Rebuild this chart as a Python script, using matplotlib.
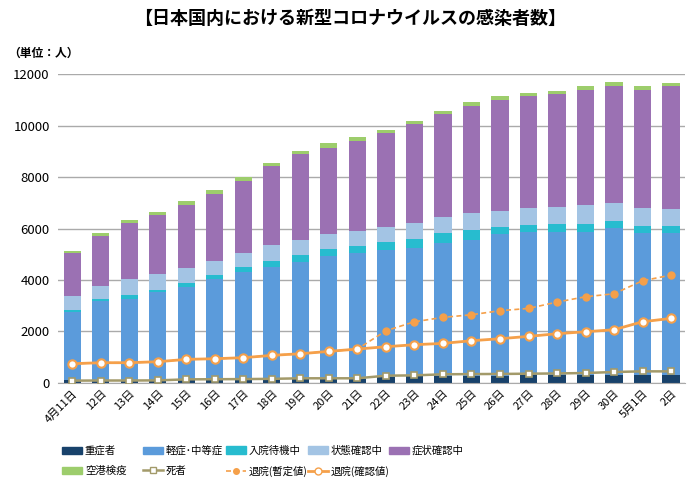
import matplotlib
matplotlib.use("Agg")
import matplotlib.pyplot as plt
import numpy as np
from matplotlib.lines import Line2D
from matplotlib.patches import Patch

plt.rcParams['font.family'] = ['Noto Sans CJK JP', 'DejaVu Sans']

dates = ["4月11日", "12日", "13日", "14日", "15日", "16日", "17日", "18日", "19日", "20日",
         "21日", "22日", "23日", "24日", "25日", "26日", "27日", "28日", "29日", "30日",
         "5月1日", "2日"]

# cumulative tops
top_green  = [5136, 5837, 6329, 6641, 7082, 7497, 8002, 8560, 9027, 9338, 9572,
              9857, 10207, 10584, 10934, 11167, 11297, 11362, 11543, 11712, 11556, 11673]
top_purple = [5058, 5707, 6226, 6537, 6926, 7341, 7847, 8431, 8897, 9157, 9416,
              9728, 10078, 10467, 10778, 11012, 11167, 11245, 11401, 11556, 11401, 11543]
top_lblue  = [3372, 3761, 4047, 4228, 4462, 4747, 5058, 5370, 5551, 5785, 5915,
              6070, 6226, 6459, 6589, 6693, 6809, 6848, 6900, 7004, 6809, 6770]
top_cyan   = [2827, 3243, 3411, 3606, 3891, 4189, 4501, 4734, 4967, 5201, 5318,
              5486, 5590, 5837, 5940, 6070, 6135, 6187, 6187, 6290, 6109, 6109]
top_blue   = [2763, 3178, 3243, 3515, 3710, 4021, 4293, 4514, 4695, 4942, 5032,
              5162, 5240, 5447, 5551, 5772, 5850, 5875, 5875, 6005, 5837, 5811]
severe     = [110, 115, 115, 120, 130, 130, 140, 140, 145, 150, 150,
              240, 250, 260, 270, 270, 280, 280, 290, 300, 300, 310]

deaths      = [80, 85, 85, 90, 130, 135, 140, 150, 171, 171, 171,
               273, 285, 327, 335, 340, 350, 360, 377, 416, 442, 440]
disch_prov  = [739, 778, 778, 817, 908, 934, 973, 1064, 1128, 1219, 1310,
               2023, 2373, 2542, 2646, 2802, 2892, 3139, 3346, 3463, 3969, 4189]
disch_conf  = [739, 778, 778, 817, 908, 934, 973, 1064, 1128, 1219, 1310,
               1401, 1479, 1530, 1634, 1712, 1803, 1907, 1984, 2062, 2373, 2503]

navy_v   = np.array(severe)
blue_v   = np.array(top_blue) - navy_v
cyan_v   = np.array(top_cyan) - np.array(top_blue)
lblue_v  = np.array(top_lblue) - np.array(top_cyan)
purple_v = np.array(top_purple) - np.array(top_lblue)
green_v  = np.array(top_green) - np.array(top_purple)

c_navy = "#18426b"
c_blue = "#5b9bdb"
c_cyan = "#27bccf"
c_lblue = "#a3c4e4"
c_purple = "#9b71b3"
c_green = "#9dcd6c"
c_olive = "#a39a6a"
c_orange = "#f5a04a"

fig = plt.figure(figsize=(7, 4.9), dpi=100)
ax = fig.add_axes([0.083, 0.219, 0.896, 0.629])

x = np.arange(len(dates))
w = 0.6
bottom = np.zeros(len(dates))
for vals, col in [(navy_v, c_navy), (blue_v, c_blue), (cyan_v, c_cyan),
                  (lblue_v, c_lblue), (purple_v, c_purple), (green_v, c_green)]:
    ax.bar(x, vals, w, bottom=bottom, color=col, zorder=2, linewidth=0)
    bottom = bottom + vals

ax.plot(x, deaths, color=c_olive, lw=1.8, marker='s', ms=5, mfc='white',
        mec=c_olive, mew=1.2, zorder=4)
ax.plot(x, disch_prov, color=c_orange, lw=1.2, ls=(0, (3, 2)), marker='o', ms=5,
        mfc=c_orange, mec=c_orange, zorder=4)
ax.plot(x, disch_conf, color=c_orange, lw=2, marker='o', ms=6, mfc='white',
        mec=c_orange, mew=1.5, zorder=5)

ax.set_xlim(-0.5, len(dates) - 0.5)
ax.set_ylim(0, 12000)
ax.set_yticks(np.arange(0, 12001, 2000))
ax.yaxis.grid(True, color="#aaaaaa", lw=1, zorder=0)
ax.set_axisbelow(True)
for s in ['top', 'right', 'left']:
    ax.spines[s].set_visible(False)
ax.spines['bottom'].set_color("#aaaaaa")
ax.tick_params(axis='y', length=0, labelsize=9.5, pad=6)
ax.tick_params(axis='x', length=0, labelsize=8, pad=4)
ax.set_xticks(x)
ax.set_xticklabels(dates, rotation=45, ha='right', rotation_mode='anchor')

fig.text(0.5, 0.962, "【日本国内における新型コロナウイルスの感染者数】", ha='center',
         va='center', fontsize=13, fontweight='bold')
fig.text(0.012, 0.892, "（単位：人）", ha='left', va='center', fontsize=8.5,
         fontweight='bold')

h = [
    Patch(color=c_navy, label="重症者"),
    Patch(color=c_blue, label="軽症･中等症"),
    Patch(color=c_cyan, label="入院待機中"),
    Patch(color=c_lblue, label="状態確認中"),
    Patch(color=c_purple, label="症状確認中"),
    Patch(color=c_green, label="空港検疫"),
    Line2D([], [], color=c_olive, lw=1.8, marker='s', ms=5, mfc='white', mec=c_olive, label="死者"),
    Line2D([], [], color=c_orange, lw=1.2, ls=(0, (3, 2)), marker='o', ms=4, mfc=c_orange, mec=c_orange, label="退院(暫定値)"),
    Line2D([], [], color=c_orange, lw=2, marker='o', ms=5, mfc='white', mec=c_orange, label="退院(確認値)"),
]
col_x = [62, 143, 226, 308, 389]
for j, xp in enumerate(col_x):
    items = [h[j]] + ([h[j + 5]] if j + 5 < len(h) else [])
    fig.legend(handles=items, loc='upper left',
               bbox_to_anchor=(xp / 700, 1 - 445.5 / 490),
               frameon=False, fontsize=7.5, handlelength=1.95, handleheight=0.7,
               handletextpad=0.25, labelspacing=0.95, borderpad=0,
               borderaxespad=0)

fig.savefig("out.png", dpi=100)
